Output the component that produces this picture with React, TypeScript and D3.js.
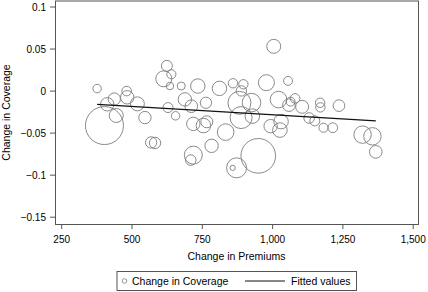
import React from "react";
import * as d3 from "d3";

// Change in Premiums (x), Change in Coverage (y), weight (marker area)
const premiums = [376, 624, 613, 640, 635, 675, 734, 481, 483, 437, 412, 519, 444, 546, 402, 628, 655, 688, 711, 718, 766, 754, 833, 811, 859, 896, 889, 978, 1055, 1004, 763, 882, 925, 888, 928, 1021, 1058, 1080, 1064, 1105, 1169, 1170, 1236, 1130, 1150, 1181, 1214, 1320, 1355, 1367, 993, 1030, 1026, 783, 718, 709, 872, 858, 949, 568, 582];
const coverage = [0.003, 0.030, 0.0146, 0.020, 0.006, 0.006, 0.006, 0.0, -0.0074, -0.0095, -0.0157, -0.0152, -0.029, -0.0315, -0.041, -0.0196, -0.0294, -0.0099, -0.018, -0.039, -0.0365, -0.041, -0.0488, 0.0032, 0.0093, 0.0081, 0.0002, 0.010, 0.0121, 0.0532, -0.0139, -0.014, -0.0137, -0.0315, -0.0298, -0.0101, -0.0167, -0.0087, -0.0125, -0.0187, -0.0139, -0.0194, -0.0173, -0.032, -0.0355, -0.0436, -0.0436, -0.0518, -0.0538, -0.0723, -0.0417, -0.0363, -0.0464, -0.0651, -0.0762, -0.0821, -0.0913, -0.0913, -0.077, 0.0611 * -1, -0.0617];
const weights = [18, 30, 64, 21, 14, 16, 52, 23, 45, 38, 45, 49, 49, 38, 361, 25, 18, 45, 40, 45, 36, 53, 69, 52, 22, 22, 27, 64, 20, 49, 32, 132, 86, 121, 53, 69, 40, 23, 20, 42, 22, 22, 34, 28, 25, 21, 24, 76, 76, 40, 45, 53, 53, 45, 81, 28, 100, 7, 300, 32, 32];

// Fitted values (linear fit)
const fitX = [376, 1367];
const fitY = [-0.0158, -0.0354];

const xTicks = [250, 500, 750, 1000, 1250, 1500];
const yTicks = [-0.15, -0.1, -0.05, 0, 0.05, 0.1];

const xTitle = "Change in Premiums";
const yTitle = "Change in Coverage";
const legendLabels = ["Change in Coverage", "Fitted values"];

const W = 428;
const H = 292;
const FONT = "'Liberation Sans', Arial, Helvetica, sans-serif";

export default function App() {
  const frame = { left: 55.5, right: 418.5, top: 1, bottom: 224.5 };
  const x = d3.scaleLinear().domain([250, 1500]).range([61.7, 413.2]);
  const y = d3.scaleLinear().domain([-0.15, 0.1]).range([217.2, 7]);
  const r = d3.scaleSqrt().domain([0, 361]).range([0, 19]);
  const fmtY = (v: number) => (v < 0 ? "\u2212" : "") + String(Math.abs(v));
  const fmtX = d3.format(",");
  const line = d3
    .line<number>()
    .x((d) => x(d))
    .y((_, i) => y(fitY[i]));

  const legend = { x0: 117, x1: 356.5, y0: 271.5, y1: 290.5 };
  const legendMid = (legend.y0 + legend.y1) / 2;

  return (
    <svg
      width={W}
      height={H}
      style={{ position: "fixed", left: 0, top: 0, background: "#fff" }}
      fontFamily={FONT}
    >
      <rect x={0} y={0} width={W} height={H} fill="#fff" />
      {/* plot frame */}
      <rect
        x={frame.left}
        y={frame.top}
        width={frame.right - frame.left}
        height={frame.bottom - frame.top}
        fill="#fff"
        stroke="#555"
        strokeWidth={1}
      />
      {/* y ticks */}
      {yTicks.map((t) => (
        <g key={"y" + t}>
          <line x1={50} x2={frame.left} y1={y(t)} y2={y(t)} stroke="#555" strokeWidth={1} />
          <text x={46} y={y(t)} dy="0.35em" textAnchor="end" fontSize={10} fill="#000">
            {fmtY(t)}
          </text>
        </g>
      ))}
      {/* x ticks */}
      {xTicks.map((t) => (
        <g key={"x" + t}>
          <line x1={x(t)} x2={x(t)} y1={frame.bottom} y2={229} stroke="#555" strokeWidth={1} />
          <text x={x(t)} y={242.5} textAnchor="middle" fontSize={10} fill="#000">
            {fmtX(t)}
          </text>
        </g>
      ))}
      {/* markers */}
      <g fill="none" stroke="#7d7d7d" strokeWidth={0.9}>
        {premiums.map((p, i) => (
          <circle key={i} cx={x(p)} cy={y(coverage[i])} r={r(weights[i])} />
        ))}
      </g>
      {/* fitted line */}
      <path d={line(fitX) || ""} fill="none" stroke="#111" strokeWidth={1.2} />
      {/* axis titles */}
      <text x={236.5} y={260} textAnchor="middle" fontSize={10.5} fill="#000">
        {xTitle}
      </text>
      <text
        transform={`translate(10,112.5) rotate(-90)`}
        textAnchor="middle"
        fontSize={10.5}
        fill="#000"
      >
        {yTitle}
      </text>
      {/* legend */}
      <rect
        x={legend.x0}
        y={legend.y0}
        width={legend.x1 - legend.x0}
        height={legend.y1 - legend.y0}
        fill="#fff"
        stroke="#555"
        strokeWidth={1}
      />
      <circle cx={124.5} cy={legendMid} r={2.3} fill="none" stroke="#7d7d7d" strokeWidth={0.8} />
      <text x={132} y={legendMid} dy="0.35em" fontSize={10.5} fill="#000">
        {legendLabels[0]}
      </text>
      <line x1={245} x2={285} y1={legendMid} y2={legendMid} stroke="#111" strokeWidth={1.2} />
      <text x={291} y={legendMid} dy="0.35em" fontSize={10.5} fill="#000">
        {legendLabels[1]}
      </text>
    </svg>
  );
}
